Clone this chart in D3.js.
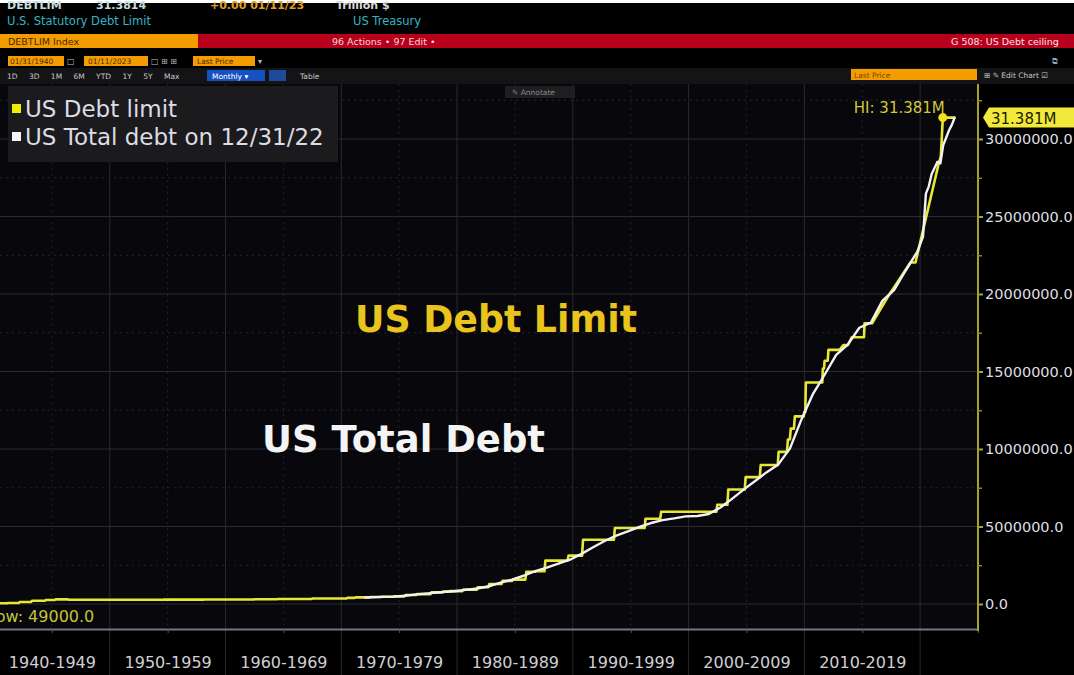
<!DOCTYPE html>
<html>
<head>
<meta charset="utf-8">
<script src="https://cdnjs.cloudflare.com/ajax/libs/d3/7.8.5/d3.min.js"></script>
<style>
body { margin: 0; background: #000; }
svg { display: block; font-family: "DejaVu Sans", sans-serif; }
</style>
</head>
<body>
<script>
// Width and height
var w = 1074;
var h = 675;

// US debt limit, monthly observations at change points ($ millions)
var limitYears = [1940.00, 1941.15, 1941.23, 1942.13, 1942.21, 1943.20, 1943.28, 1944.40, 1944.48,
  1945.25, 1945.33, 1946.40, 1946.48, 1954.60, 1954.68, 1958.10, 1958.18, 1959.45, 1959.53,
  1962.45, 1962.53, 1964.45, 1964.53, 1967.45, 1967.53, 1970.45, 1970.53, 1971.15, 1971.23,
  1972.45, 1972.53, 1973.45, 1973.53, 1974.45, 1974.53, 1975.45, 1975.53, 1976.45, 1976.53,
  1977.70, 1977.78, 1978.75, 1978.83, 1979.30, 1979.38, 1980.45, 1980.53, 1981.70, 1981.78,
  1982.70, 1982.78, 1983.85, 1983.93, 1984.75, 1984.83, 1985.90, 1985.98, 1986.75, 1986.83,
  1987.55, 1987.63, 1989.55, 1989.63, 1990.80, 1990.88, 1993.55, 1993.63, 1996.20, 1996.28,
  1997.55, 1997.63, 2002.40, 2002.48, 2003.35, 2003.43, 2004.85, 2004.93, 2006.15, 2006.23,
  2007.70, 2007.78, 2008.50, 2008.58, 2008.75, 2008.83, 2009.10, 2009.18, 2009.95, 2010.00,
  2010.08, 2010.13, 2011.55, 2011.60, 2011.70, 2011.75, 2012.02, 2012.08, 2013.05, 2013.37,
  2013.75, 2014.10, 2015.15, 2015.20, 2015.85, 2017.20, 2019.17, 2019.60, 2021.60, 2021.79,
  2021.96, 2023.05];
var limitValues = [49000, 49000, 65000, 65000, 125000, 125000, 210000, 210000, 260000,
  260000, 300000, 300000, 275000, 275000, 281000, 281000, 288000, 288000, 295000,
  295000, 308000, 308000, 324000, 324000, 358000, 358000, 395000, 395000, 430000,
  430000, 450000, 450000, 465000, 465000, 495000, 495000, 577000, 577000, 636000,
  636000, 752000, 752000, 798000, 798000, 830000, 830000, 925000, 925000, 1079800,
  1079800, 1290200, 1290200, 1490000, 1490000, 1573000, 1573000, 2078700, 2078700, 2111000,
  2111000, 2800000, 2800000, 3122700, 3122700, 4145000, 4145000, 4900000, 4900000, 5500000,
  5500000, 5950000, 5950000, 6400000, 6400000, 7384000, 7384000, 8184000, 8184000, 8965000,
  8965000, 9815000, 9815000, 10615000, 10615000, 11315000, 11315000, 12104000, 12104000, 12394000,
  12394000, 14294000, 14294000, 15194000, 15194000, 15694000, 15694000, 16394000, 16394000, 16699000,
  16699000, 17211000, 17211000, 18113000, 18113000, 19809000, 22030000, 22030000, 28401000, 28881000,
  31381000, 31381000];

// US total public debt outstanding ($ millions)
var debtYears = [1972.00, 1972.50, 1973.50, 1974.50, 1975.50, 1976.50, 1977.75, 1978.75, 1979.75,
  1980.75, 1981.75, 1982.75, 1983.75, 1984.75, 1985.75, 1986.75, 1987.75, 1988.75, 1989.75,
  1990.75, 1991.75, 1992.75, 1993.75, 1994.75, 1995.75, 1996.75, 1997.75, 1998.75, 1999.75,
  2000.75, 2001.75, 2002.75, 2003.75, 2004.75, 2005.75, 2006.75, 2007.75, 2008.75, 2009.75,
  2010.75, 2011.75, 2012.75, 2013.75, 2014.75, 2015.75, 2016.75, 2017.75, 2018.75, 2019.75,
  2020.00, 2020.25, 2020.50, 2020.75, 2021.00, 2021.50, 2021.75, 2022.00, 2022.50, 2022.75, 2023.00];
var debtValues = [424000, 427260, 458142, 475060, 533189, 620433, 698840, 771544, 826519,
  907701, 997855, 1142034, 1377210, 1572266, 1823103, 2125302, 2350277, 2602338, 2857431,
  3233313, 3665303, 4064621, 4411489, 4692750, 4973983, 5224811, 5413146, 5526193, 5656271,
  5674178, 5807463, 6228236, 6783231, 7379053, 7932710, 8506974, 9007653, 10024725, 11909829,
  13561623, 14790340, 16066241, 16738184, 17824071, 18150618, 19573445, 20244900, 21516058, 22719402,
  23201000, 23700000, 26477000, 26945391, 27748000, 28530000, 28428919, 29617000, 30568000, 30928912, 31420000];

// Axis labels
var decadeStarts = [1940, 1950, 1960, 1970, 1980, 1990, 2000, 2010, 2020];
var decadeLabels = ["1940-1949", "1950-1959", "1960-1969", "1970-1979", "1980-1989", "1990-1999", "2000-2009", "2010-2019", ""];
var yTicks = [0, 5000000, 10000000, 15000000, 20000000, 25000000, 30000000];
var legendLabels = ["US Debt limit", "US Total debt on 12/31/22"];

var plotTop = 84, plotRight = 978, plotBottom = 629;
var yellow = "#e8e834";

var x = d3.scaleLinear().domain([1940, 2025]).range([-6, plotRight]);
var y = d3.scaleLinear().domain([0, 30000000]).range([604, 139]);

//Create SVG element
var svg = d3.select("body")
            .append("svg")
            .attr("width", w)
            .attr("height", h);

svg.append("rect").attr("width", w).attr("height", h).attr("fill", "#000");

// ---- terminal header ----
svg.append("rect").attr("width", w).attr("height", 3).attr("fill", "#fff");
var top1 = svg.append("text").attr("y", 9).attr("font-size", 11).attr("font-weight", "bold");
top1.append("tspan").attr("x", 7).attr("fill", "#c4dede").text("DEBTLIM");
top1.append("tspan").attr("x", 96).attr("fill", "#c4dede").text("31.3814");
top1.append("tspan").attr("x", 210).attr("fill", "#e0a020").text("+0.00  01/11/23");
top1.append("tspan").attr("x", 336).attr("fill", "#d8d8d8").text("Trillion $");
svg.append("text").attr("x", 7).attr("y", 25).attr("font-size", 11.5).attr("fill", "#35b4c4")
   .text("U.S. Statutory Debt Limit");
svg.append("text").attr("x", 353).attr("y", 25).attr("font-size", 11.5).attr("fill", "#35b4c4")
   .text("US Treasury");

svg.append("rect").attr("x", 0).attr("y", 34).attr("width", 198).attr("height", 14).attr("fill", "#f29c00");
svg.append("rect").attr("x", 198).attr("y", 34).attr("width", w - 198).attr("height", 14).attr("fill", "#b8001c");
svg.append("text").attr("x", 8).attr("y", 45).attr("font-size", 9.5).attr("fill", "#4a2800").text("DEBTLIM Index");
svg.append("text").attr("x", 332).attr("y", 45).attr("font-size", 9.5).attr("fill", "#f0d8d8").text("96 Actions •  97 Edit •");
svg.append("text").attr("x", 951).attr("y", 45).attr("font-size", 9.5).attr("fill", "#f4e4e4").text("G 508: US Debt ceiling");

[[8, 56], [84, 64], [193, 62]].forEach(function(b) {
    svg.append("rect").attr("x", b[0]).attr("y", 56).attr("width", b[1]).attr("height", 10).attr("fill", "#f29c00");
});
svg.append("text").attr("x", 10).attr("y", 64).attr("font-size", 7.5).attr("fill", "#4a2800").text("01/31/1940");
svg.append("text").attr("x", 88).attr("y", 64).attr("font-size", 7.5).attr("fill", "#4a2800").text("01/11/2023");
svg.append("text").attr("x", 197).attr("y", 64).attr("font-size", 7.5).attr("fill", "#4a2800").text("Last Price");
svg.append("text").attr("x", 67).attr("y", 64).attr("font-size", 8).attr("fill", "#bbb").text("□");
svg.append("text").attr("x", 151).attr("y", 64).attr("font-size", 8).attr("fill", "#bbb").text("□ ⊞ ⊞");
svg.append("text").attr("x", 258).attr("y", 64).attr("font-size", 8).attr("fill", "#bbb").text("▾");
svg.append("text").attr("x", 1052).attr("y", 64).attr("font-size", 8).attr("fill", "#9aa").text("⧉");

svg.append("rect").attr("x", 0).attr("y", 68).attr("width", w).attr("height", 16).attr("fill", "#141416");
svg.append("text").attr("x", 7).attr("y", 79).attr("font-size", 7.5).attr("fill", "#c8c8c8")
   .attr("word-spacing", 9).text("1D 3D 1M 6M YTD 1Y 5Y Max");
svg.append("rect").attr("x", 207).attr("y", 70).attr("width", 58).attr("height", 11).attr("fill", "#1452c4");
svg.append("text").attr("x", 212).attr("y", 79).attr("font-size", 7.5).attr("fill", "#fff").text("Monthly ▾");
svg.append("rect").attr("x", 269).attr("y", 70).attr("width", 17).attr("height", 11).attr("fill", "#1e4a9a");
svg.append("text").attr("x", 300).attr("y", 79).attr("font-size", 7.5).attr("fill", "#c8c8c8").text("Table");
svg.append("rect").attr("x", 851).attr("y", 69).attr("width", 126).attr("height", 11).attr("fill", "#f29c00");
svg.append("text").attr("x", 854).attr("y", 78).attr("font-size", 7.5).attr("fill", "#7a4a00").text("Last Price");
svg.append("text").attr("x", 984).attr("y", 78).attr("font-size", 7.5).attr("fill", "#c8c8c8").text("⊞ ✎ Edit Chart ☑");

// ---- plot area ----
svg.append("rect").attr("x", 0).attr("y", plotTop).attr("width", plotRight).attr("height", plotBottom - plotTop)
   .attr("fill", "#07070c");

svg.append("defs").append("clipPath").attr("id", "clip")
   .append("rect").attr("x", 0).attr("y", plotTop).attr("width", plotRight).attr("height", plotBottom - plotTop);

// grid
svg.selectAll("line.hgrid")
   .data(yTicks)
   .enter()
   .append("line")
   .attr("x1", 0).attr("x2", plotRight)
   .attr("y1", function(d) { return y(d); })
   .attr("y2", function(d) { return y(d); })
   .attr("stroke", "#2a2a30").attr("stroke-width", 1);
svg.selectAll("line.hminor")
   .data(yTicks.map(function(d) { return d + 2500000; }))
   .enter()
   .append("line")
   .attr("x1", 0).attr("x2", plotRight)
   .attr("y1", function(d) { return y(d); })
   .attr("y2", function(d) { return y(d); })
   .attr("stroke", "#25252b").attr("stroke-dasharray", "2,4");
svg.selectAll("line.vgrid")
   .data(decadeStarts.slice(1))
   .enter()
   .append("line")
   .attr("x1", function(d) { return x(d); })
   .attr("x2", function(d) { return x(d); })
   .attr("y1", plotTop).attr("y2", h)
   .attr("stroke", "#2a2a2e");
svg.selectAll("line.vminor")
   .data(decadeStarts.map(function(d) { return d + 5; }))
   .enter()
   .append("line")
   .attr("x1", function(d) { return x(d); })
   .attr("x2", function(d) { return x(d); })
   .attr("y1", plotTop).attr("y2", plotBottom)
   .attr("stroke", "#222228").attr("stroke-dasharray", "2,4");

// legend
svg.append("rect").attr("x", 8).attr("y", 86).attr("width", 330).attr("height", 76).attr("fill", "#1b1b1d");
svg.selectAll("rect.key")
   .data(legendLabels)
   .enter()
   .append("rect")
   .attr("x", 12)
   .attr("y", function(d, i) { return 104 + i * 28; })
   .attr("width", 9).attr("height", 9)
   .attr("fill", function(d, i) { return i === 0 ? "#eeee00" : "#f4f4f4"; });
svg.selectAll("text.key")
   .data(legendLabels)
   .enter()
   .append("text")
   .text(function(d) { return d; })
   .attr("x", 25)
   .attr("y", function(d, i) { return 117 + i * 28; })
   .attr("font-size", 23)
   .attr("fill", "#dcdce6");

// annotate button
svg.append("rect").attr("x", 505).attr("y", 86).attr("width", 70).attr("height", 12).attr("fill", "#1e1e20");
svg.append("text").attr("x", 512).attr("y", 95).attr("font-size", 7.5).attr("fill", "#8a8a8a").text("✎ Annotate");

// lines
var limitData = limitYears.map(function(t, i) { return { t: t, v: limitValues[i] }; });
var debtData = debtYears.map(function(t, i) { return { t: t, v: debtValues[i] }; });
var line = d3.line()
             .x(function(d) { return x(d.t); })
             .y(function(d) { return y(d.v); });

var lines = svg.append("g").attr("clip-path", "url(#clip)");
lines.append("path")
     .attr("d", line(limitData))
     .attr("fill", "none").attr("stroke", yellow).attr("stroke-width", 2.6)
     .attr("stroke-linejoin", "round");
lines.append("path")
     .attr("d", line(debtData))
     .attr("fill", "none").attr("stroke", "#f2f2f6").attr("stroke-width", 2.4)
     .attr("stroke-linejoin", "round");

// high / low markers
var hi = limitData[d3.maxIndex(limitValues)];
svg.append("circle").attr("cx", x(hi.t)).attr("cy", y(hi.v)).attr("r", 4.5).attr("fill", "#f0e020");
svg.append("text").attr("x", x(hi.t) + 2).attr("y", y(hi.v) - 5)
   .attr("text-anchor", "end").attr("font-size", 15).attr("fill", "#cfc83a")
   .text("HI: " + (hi.v / 1000000).toFixed(3) + "M");
var lo = limitData[d3.minIndex(limitValues)];
svg.append("text").attr("x", x(lo.t) - 7).attr("y", y(lo.v) + 19)
   .attr("font-size", 16).attr("fill", "#c4c43a")
   .text("Low: " + lo.v.toFixed(1));

// big annotations
svg.append("text").attr("x", 355).attr("y", 332).attr("font-size", 37).attr("font-weight", "bold")
   .attr("textLength", 282).attr("lengthAdjust", "spacingAndGlyphs")
   .attr("fill", "#e8c41c").text("US Debt Limit");
svg.append("text").attr("x", 262).attr("y", 452).attr("font-size", 37).attr("font-weight", "bold")
   .attr("textLength", 283).attr("lengthAdjust", "spacingAndGlyphs")
   .attr("fill", "#f4f4f4").text("US Total Debt");

// x axis
var xAxis = d3.axisBottom(x)
              .tickValues(decadeStarts.map(function(d) { return d + 5; }))
              .tickFormat(function(d, i) { return decadeLabels[i]; })
              .tickSize(4)
              .tickSizeOuter(0)
              .tickPadding(24);
var gx = svg.append("g").attr("transform", "translate(0," + plotBottom + ")").call(xAxis);
gx.select(".domain").attr("stroke", "#77777d").attr("stroke-width", 2);
gx.selectAll(".tick line").attr("stroke", "#55555a");
gx.selectAll(".tick text").attr("fill", "#cfcfd4").attr("font-size", 16)
  .attr("font-family", "DejaVu Sans, sans-serif");

// y axis
svg.append("line").attr("x1", plotRight).attr("x2", plotRight).attr("y1", plotTop).attr("y2", plotBottom + 2)
   .attr("stroke", "#a4a42c").attr("stroke-width", 2);
var yAxis = d3.axisRight(y)
              .tickValues(yTicks)
              .tickFormat(function(d) { return d.toFixed(1); })
              .tickSize(5)
              .tickPadding(2);
var gy = svg.append("g").attr("transform", "translate(" + plotRight + ",0)").call(yAxis);
gy.select(".domain").remove();
gy.selectAll(".tick line").attr("stroke", "#a4a42c").attr("stroke-width", 2);
gy.selectAll(".tick text").attr("fill", "#dedee4").attr("font-size", 14.5)
  .attr("font-family", "DejaVu Sans, sans-serif");
var yMinor = d3.axisRight(y)
               .tickValues(yTicks.map(function(d) { return d + 2500000; }))
               .tickFormat("")
               .tickSize(4);
var gm = svg.append("g").attr("transform", "translate(" + plotRight + ",0)").call(yMinor);
gm.select(".domain").remove();
gm.selectAll(".tick line").attr("stroke", "#8a8a2a").attr("stroke-width", 1.5);

// last value tag
var last = limitData[limitData.length - 1];
var ty = y(last.v);
svg.append("path")
   .attr("d", "M983," + ty + " L989," + (ty - 10) + " L1074," + (ty - 10) + " L1074," + (ty + 10) + " L989," + (ty + 10) + " Z")
   .attr("fill", "#f2ea3a");
svg.append("text").attr("x", 991).attr("y", ty + 6).attr("font-size", 15).attr("fill", "#1a1a00")
   .text((last.v / 1000000).toFixed(3) + "M");
</script>
</body>
</html>
